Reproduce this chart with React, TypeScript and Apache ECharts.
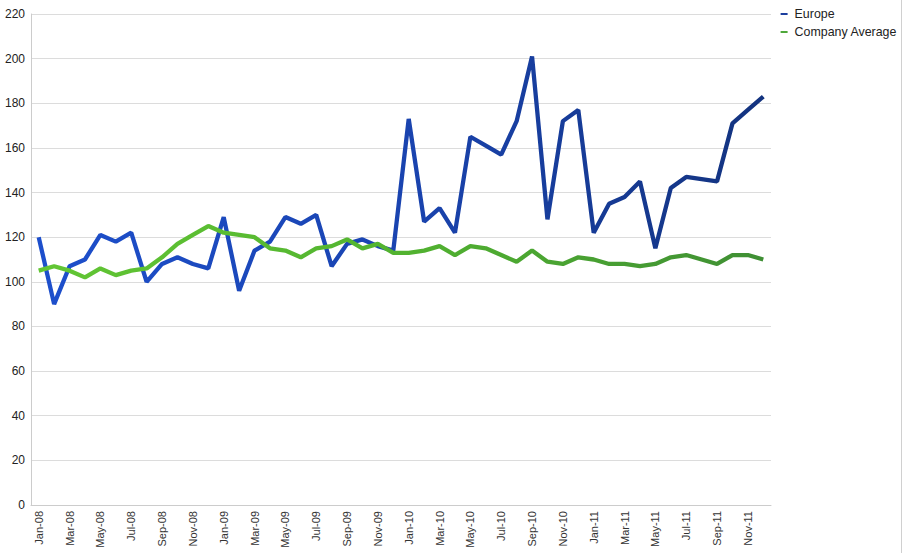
import React, { useEffect, useRef } from "react";
import * as echarts from "echarts";

const months = ["Jan", "Feb", "Mar", "Apr", "May", "Jun", "Jul", "Aug", "Sep", "Oct", "Nov", "Dec"];
const years = ["08", "09", "10", "11"];
const categories: string[] = years.flatMap((y) => months.map((m) => `${m}-${y}`));

const europe = [
  120, 90, 107, 110, 121, 118, 122, 100, 108, 111, 108, 106,
  129, 96, 114, 118, 129, 126, 130, 107, 117, 119, 116, 114,
  173, 127, 133, 122, 165, 161, 157, 172, 201, 128, 172, 177,
  122, 135, 138, 145, 115, 142, 147, 146, 145, 171, 177, 183,
];

const companyAverage = [
  105, 107, 105, 102, 106, 103, 105, 106, 111, 117, 121, 125,
  122, 121, 120, 115, 114, 111, 115, 116, 119, 115, 117, 113,
  113, 114, 116, 112, 116, 115, 112, 109, 114, 109, 108, 111,
  110, 108, 108, 107, 108, 111, 112, 110, 108, 112, 112, 110,
];

const yTicks = { min: 0, max: 220, interval: 20 };

export default function App() {
  const ref = useRef<HTMLDivElement>(null);
  useEffect(() => {
    if (!ref.current) return;
    const chart = echarts.init(ref.current, undefined, { renderer: "svg" });
    const font = "'Liberation Sans', Arial, sans-serif";
    chart.setOption({
      animation: false,
      backgroundColor: "#ffffff",
      grid: { left: 31, right: 132, top: 14, bottom: 48, containLabel: false },
      legend: {
        orient: "vertical",
        right: 6,
        top: 8,
        padding: 0,
        itemWidth: 7,
        itemHeight: 2,
        itemGap: 6,
        icon: "rect",
        textStyle: { fontFamily: font, fontSize: 12.4, color: "#222", padding: [0, 0, 0, 2] },
        data: ["Europe", "Company Average"],
      },
      xAxis: {
        type: "category",
        data: categories,
        boundaryGap: true,
        axisLine: { show: true, lineStyle: { color: "#cccccc", width: 1 } },
        axisTick: { show: false },
        axisLabel: {
          interval: 1,
          rotate: 90,
          margin: 6,
          fontFamily: font,
          fontSize: 11,
          color: "#333",
        },
        splitLine: { show: false },
      },
      yAxis: {
        type: "value",
        min: yTicks.min,
        max: yTicks.max,
        interval: yTicks.interval,
        axisLine: { show: true, lineStyle: { color: "#cccccc", width: 1 } },
        axisTick: { show: false },
        axisLabel: { margin: 6, fontFamily: font, fontSize: 12, color: "#222" },
        splitLine: { show: true, lineStyle: { color: "#dcdcdc", width: 1 } },
      },
      series: [
        {
          name: "Europe",
          type: "line",
          data: europe,
          showSymbol: false,
          symbol: "none",
          itemStyle: { color: "#1c3f9e" },
          lineStyle: {
            width: 4.3,
            color: new echarts.graphic.LinearGradient(0, 0, 1, 0, [
              { offset: 0, color: "#1d4fcc" },
              { offset: 0.5, color: "#1a44b0" },
              { offset: 1, color: "#13337f" },
            ]),
          },
          z: 2,
        },
        {
          name: "Company Average",
          type: "line",
          data: companyAverage,
          showSymbol: false,
          symbol: "none",
          itemStyle: { color: "#4ea83a" },
          lineStyle: {
            width: 4.3,
            color: new echarts.graphic.LinearGradient(0, 0, 1, 0, [
              { offset: 0, color: "#62c634" },
              { offset: 0.5, color: "#52b330" },
              { offset: 1, color: "#3f8f34" },
            ]),
          },
          z: 3,
        },
      ],
      graphic: [
        {
          type: "line",
          shape: { x1: 901.5, y1: 0, x2: 901.5, y2: 553 },
          style: { stroke: "#d0d0d0", lineWidth: 1 },
        },
      ],
    });
    return () => chart.dispose();
  }, []);
  return (
    <div
      ref={ref}
      style={{ position: "fixed", left: 0, top: 0, width: 903, height: 553 }}
    />
  );
}
